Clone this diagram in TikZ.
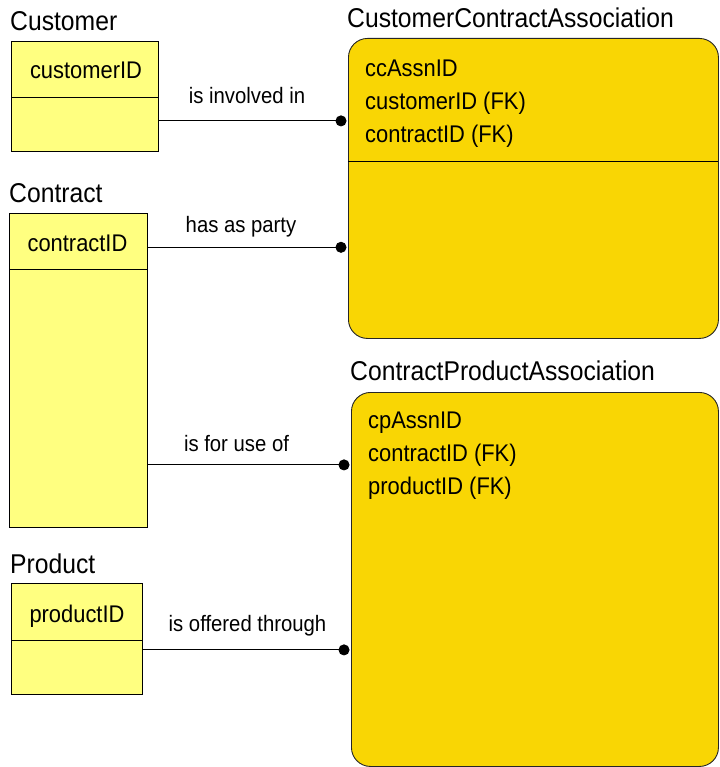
\documentclass[tikz,border=0pt]{standalone}
\usepackage{fontspec}
\setmainfont{Liberation Sans}
\usetikzlibrary{arrows.meta}
\definecolor{entlight}{RGB}{255,255,128}
\definecolor{assoc}{RGB}{249,214,4}
\newcommand\tall[1]{\scalebox{1}[1.1]{#1}}
\tikzset{
  ent/.style={draw=black, line width=0.9pt, fill=entlight, anchor=north west, inner sep=0pt},
  assocbox/.style={draw=black!85, line width=0.9pt, fill=assoc, rounded corners=19pt, anchor=north west, inner sep=0pt},
  title/.style={anchor=base west, inner sep=0pt, font=\fontsize{24.7}{28}\selectfont},
  attr/.style={anchor=base, inner sep=0pt, font=\fontsize{21.9}{26}\selectfont},
  attrl/.style={anchor=base west, inner sep=0pt, font=\fontsize{21.9}{26}\selectfont},
  rel/.style={anchor=base, inner sep=0pt, font=\fontsize{20.3}{24}\selectfont},
  link/.style={line width=0.9pt, -{Circle[length=11pt,width=11pt]}, shorten >=1.5pt},
  divider/.style={line width=0.9pt}
}
\begin{document}
\begin{tikzpicture}[x=1pt, y=-1pt]
\useasboundingbox (0,0) rectangle (719,767);

% entity boxes
\node[ent, minimum width=147pt, minimum height=110pt] (cust) at (11,41) {};
\node[ent, minimum width=138pt, minimum height=314pt] (contr) at (9,213) {};
\node[ent, minimum width=131pt, minimum height=111pt] (prod) at (11,583) {};
\draw[divider] (11,97.5) -- (159,97.5);
\draw[divider] (9,269) -- (148,269);
\draw[divider] (11,640) -- (143,640);

% association boxes
\node[assocbox, minimum width=370pt, minimum height=300pt] (cca) at (348,38) {};
\node[assocbox, minimum width=367pt, minimum height=374pt] (cpa) at (351,392) {};
\draw[divider] (348,161) -- (718,161);

% titles
\node[title] (tcust) at (10,31) {\tall{Customer}};
\node[title] (tcontr) at (9,203) {\tall{Contract}};
\node[title] (tprod) at (10,573) {\tall{Product}};
\node[title] (tcca) at (347,28) {\tall{CustomerContractAssociation}};
\node[title] (tcpa) at (350,380) {\tall{ContractProductAssociation}};

% key attributes
\node[attr] (acust) at (86,79) {\tall{customerID}};
\node[attr] (acontr) at (77.5,251) {\tall{contractID}};
\node[attr] (aprod) at (77,622) {\tall{productID}};

\node[attrl] (cca1) at (365,77) {\tall{ccAssnID}};
\node[attrl] (cca2) at (365,110) {\tall{customerID (FK)}};
\node[attrl] (cca3) at (365,143) {\tall{contractID (FK)}};
\node[attrl] (cpa1) at (368,428) {\tall{cpAssnID}};
\node[attrl] (cpa2) at (368,461.5) {\tall{contractID (FK)}};
\node[attrl] (cpa3) at (368,494) {\tall{productID (FK)}};

% relationships
\coordinate (r1) at ([yshift=31pt]cust.south east);
\coordinate (r2) at ([yshift=-34.3pt]contr.north east);
\coordinate (r3) at ([yshift=63pt]contr.south east);
\coordinate (r4) at ([yshift=45pt]prod.south east);
\draw[link] (r1) -- (r1 -| cca.west);
\draw[link] (r2) -- (r2 -| cca.west);
\draw[link] (r3) -- (r3 -| cpa.west);
\draw[link] (r4) -- (r4 -| cpa.west);

\node[rel] (l1) at (247,104) {\tall{is involved in}};
\node[rel] (l2) at (241,233) {\tall{has as party}};
\node[rel] (l3) at (236.5,451) {\tall{is for use of}};
\node[rel] (l4) at (247.5,631) {\tall{is offered through}};
\end{tikzpicture}
\end{document}
